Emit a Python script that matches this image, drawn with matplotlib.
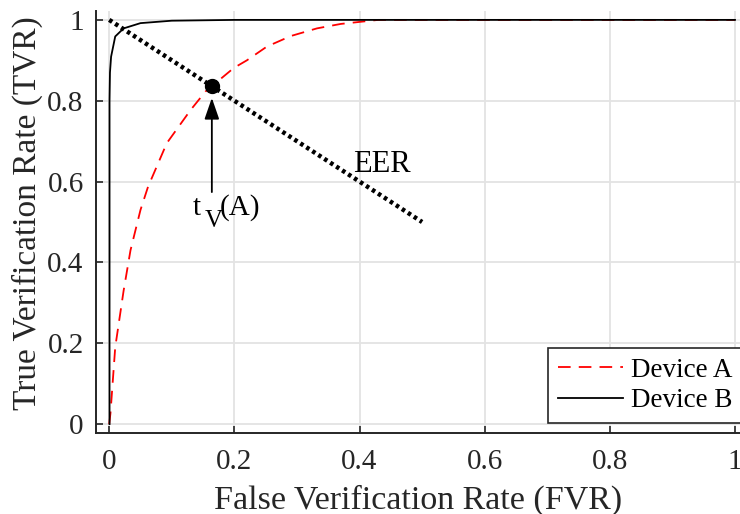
import numpy as np
import matplotlib
matplotlib.use('Agg')
import matplotlib.pyplot as plt

### Data
fvr_a = [0.0, 0.002, 0.0096, 0.023, 0.034, 0.05, 0.062, 0.092, 0.13, 0.154,
         0.164, 0.199, 0.22, 0.252, 0.29, 0.332, 0.37, 0.43, 1.0]
tvr_a = [0.0, 0.027, 0.19, 0.33, 0.43, 0.53, 0.587, 0.695, 0.777, 0.823,
         0.836, 0.881, 0.90, 0.934, 0.96, 0.979, 0.99, 1.0, 1.0]
fvr_b = [0.0005, 0.0005, 0.0012, 0.003, 0.0096, 0.023, 0.05, 0.10, 0.2, 1.0]
tvr_b = [0.0, 0.80, 0.87, 0.909, 0.959, 0.979, 0.992, 0.998, 1.0, 1.0]
eer_x = [0.0, 0.5]
eer_y = [1.0, 0.5]
eer_pt = (0.164, 0.836)
ticks = [0, 0.2, 0.4, 0.6, 0.8, 1]
ticklabels = ['0', '0.2', '0.4', '0.6', '0.8', '1']

### Style
plt.rcParams['font.family'] = ['Liberation Serif', 'DejaVu Serif']
dark = '#262626'

fig = plt.figure(figsize=(7.4, 5.14), dpi=100)
ax = fig.add_axes([0.13, 0.158, 0.87, 0.8206])

ax.grid(True, color='#e3e3e3', linewidth=1.3, zorder=0)
ax.set_axisbelow(True)

ax.plot(fvr_a, tvr_a, color='red', linestyle=(0, (7, 4.5)), linewidth=1.3,
        label='Device A', zorder=3)
ax.plot(fvr_b, tvr_b, color='black', linestyle='-', linewidth=1.3,
        label='Device B', zorder=3)
ax.plot(eer_x, eer_y, color='black', linestyle=(0, (0.8, 0.8)),
        linewidth=3.2, zorder=4)
ax.plot([eer_pt[0]], [eer_pt[1]], 'o', color='black', markersize=10,
        zorder=5)

### Arrow and annotations
ax.annotate('', xy=(eer_pt[0], 0.807), xytext=(eer_pt[0], 0.574),
            arrowprops=dict(arrowstyle='-|>,head_length=1.3,head_width=0.45',
                            color='black', linewidth=1.3, shrinkA=0,
                            shrinkB=0), zorder=6)
# t_V(A) built from pieces so the subscript stays large
ax.text(0.134, 0.517, 't', fontsize=21, ha='left', va='baseline')
ax.text(0.153, 0.488, 'V', fontsize=18, ha='left', va='baseline')
ax.text(0.177, 0.517, '(A)', fontsize=21, ha='left', va='baseline')
ax.text(0.389, 0.624, 'EER', fontsize=22, ha='left', va='baseline')

ax.set_xlim(-0.0208, 1.008)
ax.set_ylim(-0.0215, 1.022)
ax.set_xticks(ticks)
ax.set_xticklabels(ticklabels)
ax.set_yticks(ticks)
ax.set_yticklabels(ticklabels)

for s in ['top', 'right']:
    ax.spines[s].set_visible(False)
for s in ['left', 'bottom']:
    ax.spines[s].set_color(dark)
    ax.spines[s].set_linewidth(1.4)
ax.tick_params(axis='both', direction='in', length=5, width=1.2,
               colors=dark, labelsize=21)
ax.tick_params(axis='x', pad=12)
ax.tick_params(axis='y', pad=9)

ax.set_xlabel('False Verification Rate (FVR)', fontsize=24.5, color=dark,
              labelpad=7)
ax.set_ylabel('True Verification Rate (TVR)', fontsize=24, color=dark)
ax.yaxis.set_label_coords(-0.083, 0.52)

leg = ax.legend(loc='lower right', fontsize=19.5, handlelength=2.4,
                frameon=True, fancybox=False, borderaxespad=0,
                labelspacing=0.2, handletextpad=0.3, borderpad=0.35,
                bbox_to_anchor=(1.003, 0.024))
leg.get_frame().set_edgecolor(dark)
leg.get_frame().set_linewidth(1.2)
leg.get_frame().set_alpha(1)

plt.savefig('out.png', dpi=100)
